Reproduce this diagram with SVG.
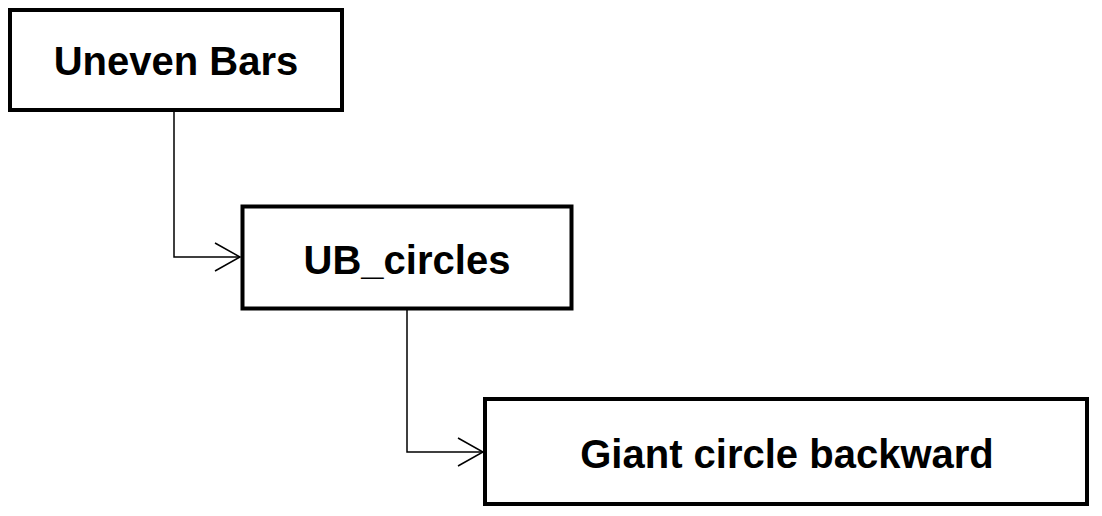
<svg xmlns="http://www.w3.org/2000/svg" width="1102" height="516" viewBox="0 0 1102 516">
<style>
.box{fill:#fff;stroke:#000;stroke-width:4}
.lbl{font-family:"Liberation Sans",Arial,sans-serif;font-weight:bold;font-size:40px;fill:#000;text-anchor:middle}
.edge{fill:none;stroke:#000;stroke-width:1.5}
</style>
<defs>
<marker id="arr" markerUnits="userSpaceOnUse" markerWidth="30" markerHeight="32" refX="26" refY="15" orient="auto">
<path d="M1,1 L26,15 L1,29" fill="none" stroke="#000" stroke-width="1.5"/>
</marker>
</defs>
<rect width="1102" height="516" fill="#fff"/>
<g id="connectors">
<path class="edge" d="M174,112 V257 H240" marker-end="url(#arr)"/>
<path class="edge" d="M407,310 V452 H483" marker-end="url(#arr)"/>
</g>
<g id="uneven-bars">
<rect class="box" x="10" y="10" width="332" height="100"/>
<text class="lbl" x="176" y="75">Uneven Bars</text>
</g>
<g id="ub-circles">
<rect class="box" x="242.5" y="206.5" width="329" height="102"/>
<text class="lbl" x="407" y="274">UB_circles</text>
</g>
<g id="giant-circle-backward">
<rect class="box" x="485" y="399" width="602" height="105"/>
<text class="lbl" x="787" y="468">Giant circle backward</text>
</g>
</svg>
